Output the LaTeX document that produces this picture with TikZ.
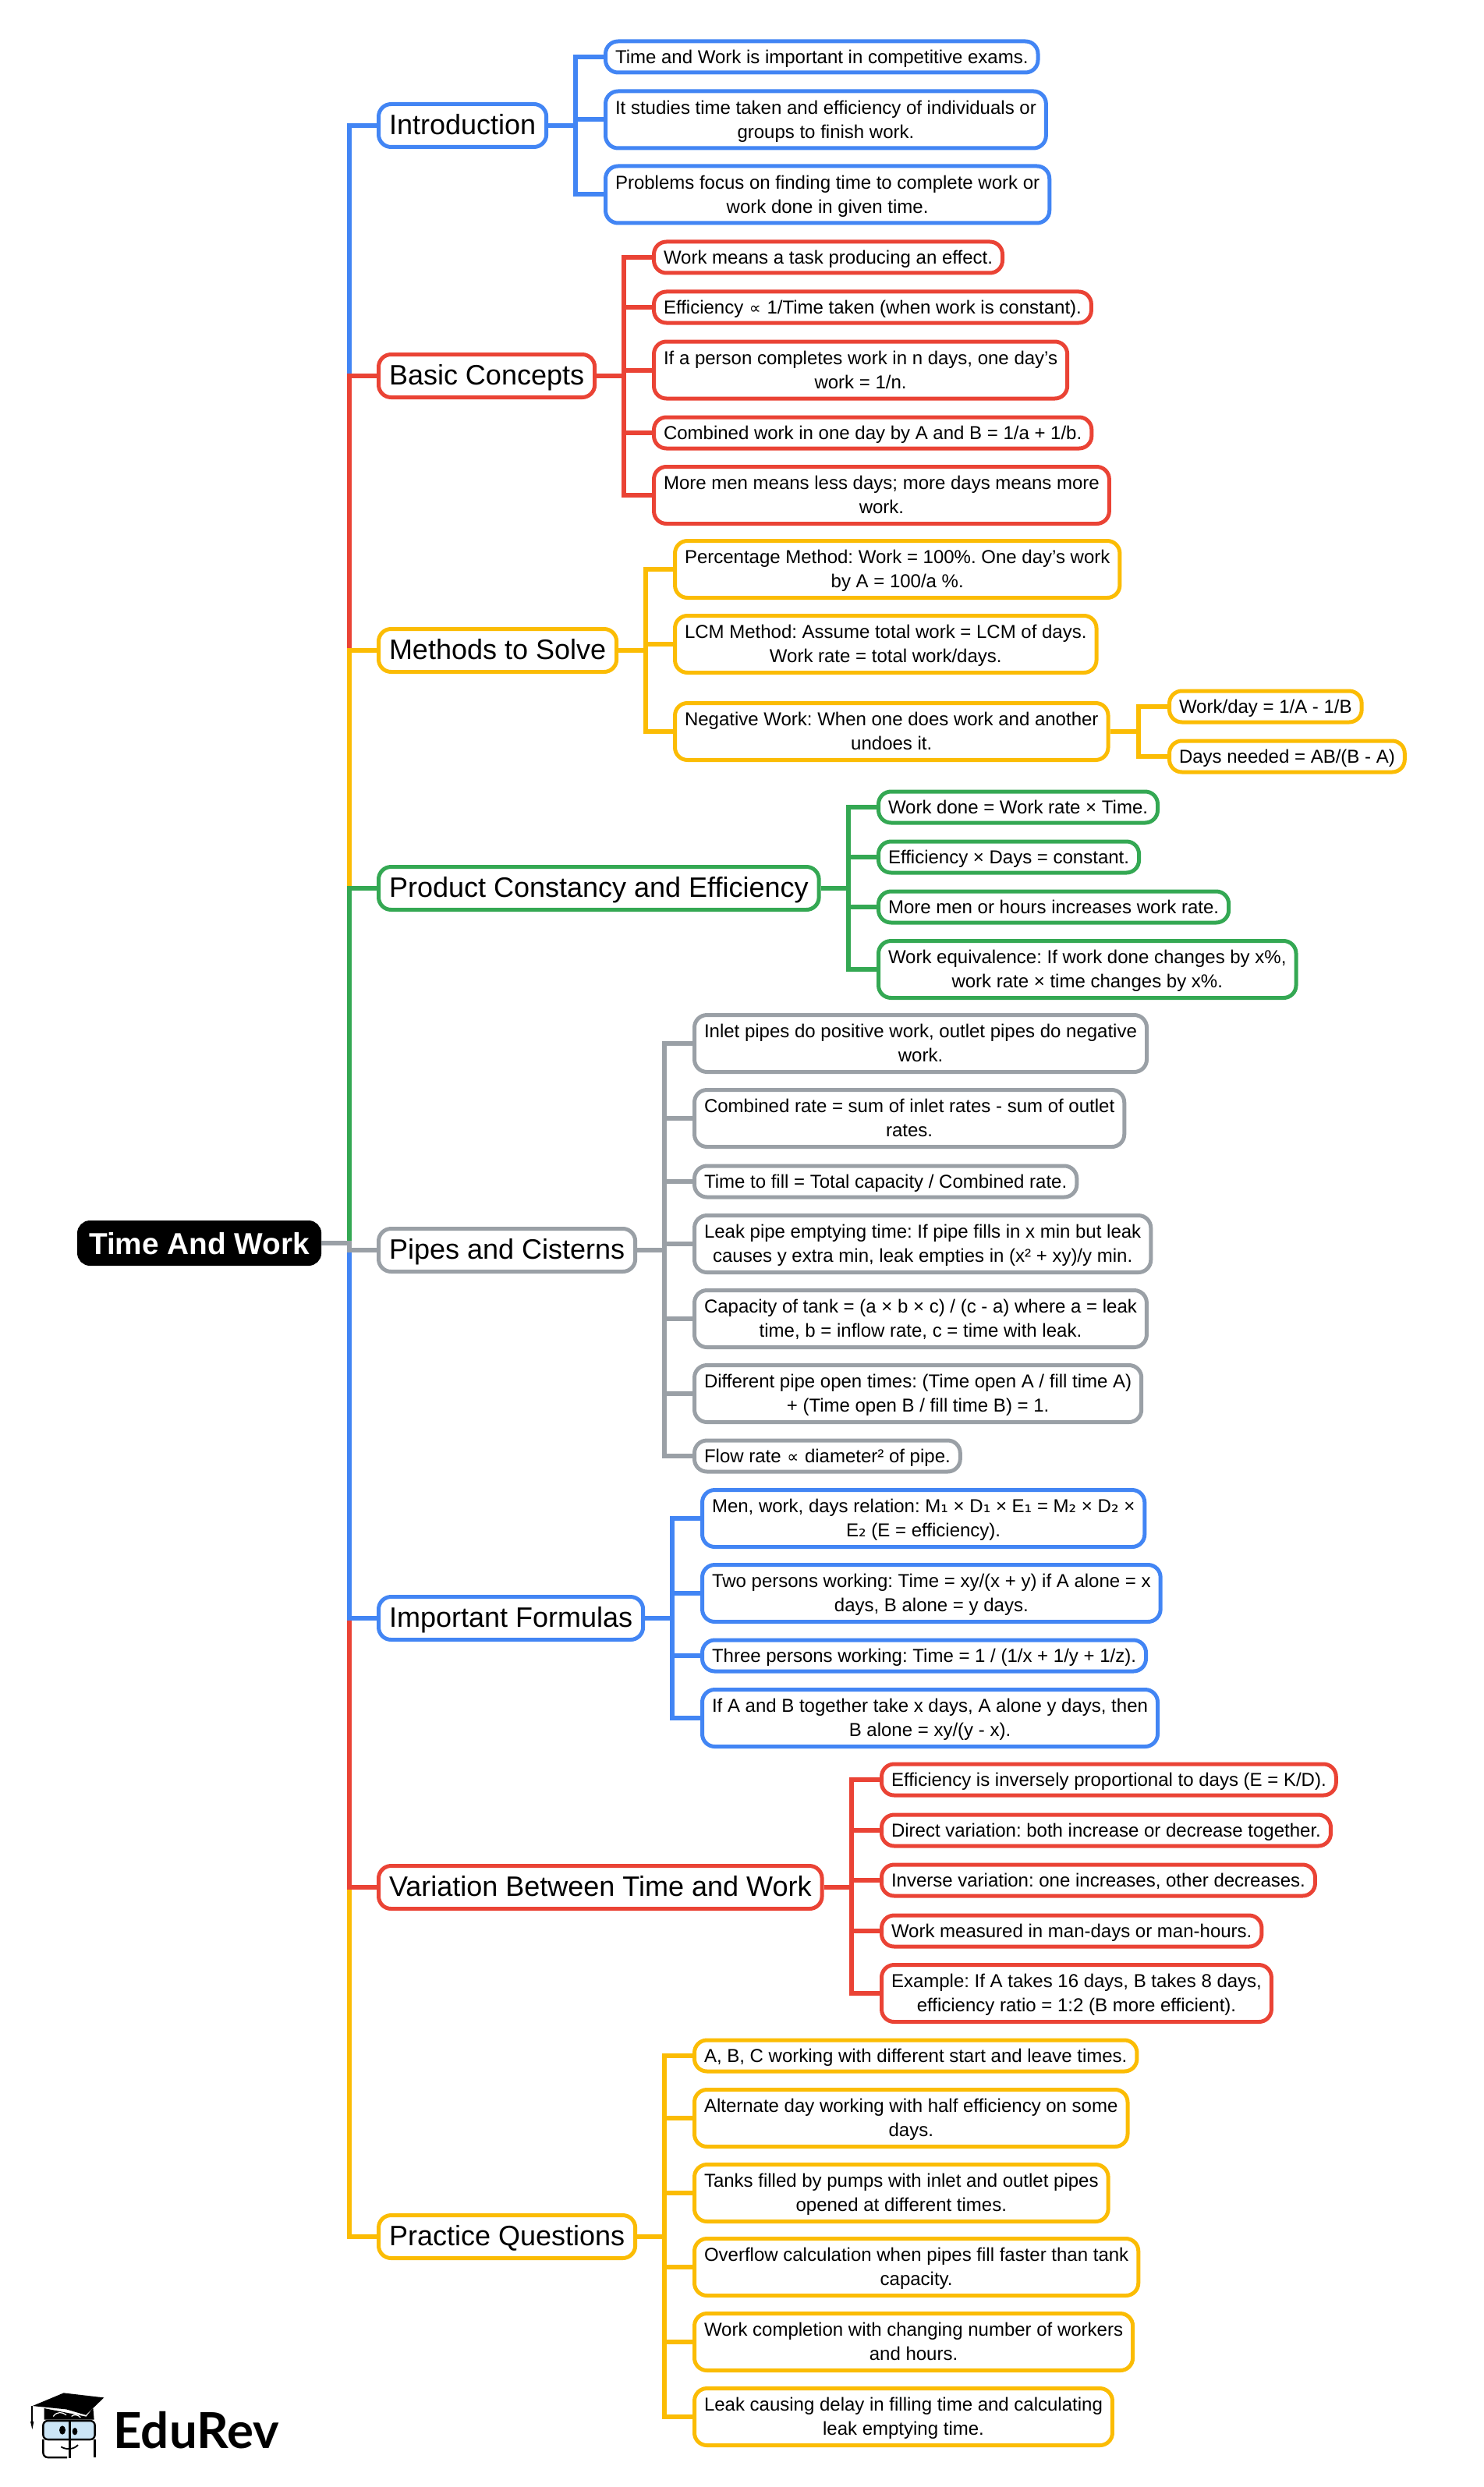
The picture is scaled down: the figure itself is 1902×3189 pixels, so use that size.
\documentclass[tikz,border=0pt]{standalone}
\usepackage{fontspec}
\setmainfont{Liberation Sans}
\newfontfamily\logofont{Lato}
\newfontfamily\symfont{DejaVu Sans}
\definecolor{bluelink}{HTML}{4285F4}
\definecolor{redlink}{HTML}{EA4335}
\definecolor{yellowlink}{HTML}{FBBC04}
\definecolor{greenlink}{HTML}{34A853}
\definecolor{graylink}{HTML}{9AA0A6}
\definecolor{glasslens}{HTML}{CBE5F6}
\newcommand{\boxstrut}{\rule[-0.23\baselineskip]{0pt}{\baselineskip}}
\newcommand{\propsign}{\kern0.5pt{\symfont\fontsize{10.5}{12}\selectfont ∝}\kern0.5pt}
\newcommand{\subone}{{\symfont ₁}}
\newcommand{\subtwo}{{\symfont ₂}}
\tikzset{
    boxbase/.style={rounded corners=8pt,line width=2.5pt,fill=white,align=center,anchor=west,inner xsep=6.25pt,
        execute at begin node=\frenchspacing\boxstrut,execute at end node=\boxstrut},
    leaf/.style={boxbase,draw=#1,inner ysep=2.25pt,font=\fontsize{12}{15.5}\selectfont},
    leaftwo/.style={leaf=#1,inner ysep=1.75pt,execute at begin node=\rule[-4.55pt]{0pt}{33pt}},
    topic/.style={boxbase,draw=#1,inner xsep=6.75pt,inner ysep=2.75pt,font=\fontsize{18}{22}\selectfont},
    rootbox/.style={boxbase,draw=black,fill=black,text=white,inner ysep=0.25pt,rounded corners=7pt,font=\fontsize{19.4}{26}\selectfont\bfseries},
    link/.style={draw=#1,line width=3pt}
}
\begin{document}
\begin{tikzpicture}[x=0.5pt,y=-0.5pt]
    \useasboundingbox (0,0) rectangle (1902,3189);
    \node[rootbox] (root) at (99,1594) {Time And Work};
    \coordinate (trunk) at (448,1594);
    % main topics
    \node[topic=bluelink] (intro) at (483,161) {Introduction};
    \node[topic=redlink] (basic) at (483,482) {Basic Concepts};
    \node[topic=yellowlink] (methods) at (483,834) {Methods to Solve};
    \node[topic=greenlink] (product) at (483,1139) {Product Constancy and Efficiency};
    \node[topic=graylink] (pipes) at (483,1603) {Pipes and Cisterns};
    \node[topic=bluelink] (formulas) at (483,2075) {Important Formulas};
    \node[topic=redlink] (variation) at (483,2420) {Variation Between Time and Work};
    \node[topic=yellowlink] (practice) at (483,2868) {Practice Questions};
    % introduction
    \node[leaf=bluelink] (introa) at (774,73) {Time and Work is important in competitive exams.};
    \node[leaftwo=bluelink] (introb) at (774,153.5) {It studies time taken and efficiency of individuals or\\groups to finish work.};
    \node[leaftwo=bluelink] (introc) at (774,249.5) {Problems focus on finding time to complete work or\\work done in given time.};
    % basic concepts
    \node[leaf=redlink] (basica) at (836,330) {Work means a task producing an effect.};
    \node[leaf=redlink] (basicb) at (836,394) {Efficiency \propsign{} 1/Time taken (when work is constant).};
    \node[leaftwo=redlink] (basicc) at (836,474.5) {If a person completes work in n days, one day’s\\work = 1/n.};
    \node[leaf=redlink] (basicd) at (836,555) {Combined work in one day by A and B = 1/a + 1/b.};
    \node[leaftwo=redlink] (basice) at (836,635) {More men means less days; more days means more\\work.};
    % methods
    \node[leaftwo=yellowlink] (methoda) at (863,730) {Percentage Method: Work = 100\%. One day’s work\\by A = 100/a \%.};
    \node[leaftwo=yellowlink] (methodb) at (863,826) {LCM Method: Assume total work = LCM of days.\\Work rate = total work/days.};
    \node[leaftwo=yellowlink] (methodc) at (863,938) {Negative Work: When one does work and another\\undoes it.};
    \node[leaf=yellowlink] (negativea) at (1497,906) {Work/day = 1/A - 1/B};
    \node[leaf=yellowlink] (negativeb) at (1497,970) {Days needed = AB/(B - A)};
    % product constancy
    \node[leaf=greenlink] (producta) at (1124,1035) {Work done = Work rate × Time.};
    \node[leaf=greenlink] (productb) at (1124,1099) {Efficiency × Days = constant.};
    \node[leaf=greenlink] (productc) at (1124,1163) {More men or hours increases work rate.};
    \node[leaftwo=greenlink] (productd) at (1124,1243) {Work equivalence: If work done changes by x\%,\\work rate × time changes by x\%.};
    % pipes
    \node[leaftwo=graylink] (pipea) at (888,1338) {Inlet pipes do positive work, outlet pipes do negative\\work.};
    \node[leaftwo=graylink] (pipeb) at (888,1434) {Combined rate = sum of inlet rates - sum of outlet\\rates.};
    \node[leaf=graylink] (pipec) at (888,1515) {Time to fill = Total capacity / Combined rate.};
    \node[leaftwo=graylink] (piped) at (888,1595) {Leak pipe emptying time: If pipe fills in x min but leak\\causes y extra min, leak empties in (x² + xy)/y min.};
    \node[leaftwo=graylink] (pipee) at (888,1691) {Capacity of tank = (a × b × c) / (c - a) where a = leak\\time, b = inflow rate, c = time with leak.};
    \node[leaftwo=graylink] (pipef) at (888,1787) {Different pipe open times: (Time open A / fill time A)\\+ (Time open B / fill time B) = 1.};
    \node[leaf=graylink] (pipeg) at (888,1867) {Flow rate \propsign{} diameter² of pipe.};
    % formulas
    \node[leaftwo=bluelink] (formulaa) at (898,1947) {Men, work, days relation: M\subone{} × D\subone{} × E\subone{} = M\subtwo{} × D\subtwo{} ×\\E\subtwo{} (E = efficiency).};
    \node[leaftwo=bluelink] (formulab) at (898,2043) {Two persons working: Time = xy/(x + y) if A alone = x\\days, B alone = y days.};
    \node[leaf=bluelink] (formulac) at (898,2123) {Three persons working: Time = 1 / (1/x + 1/y + 1/z).};
    \node[leaftwo=bluelink] (formulad) at (898,2203) {If A and B together take x days, A alone y days, then\\B alone = xy/(y - x).};
    % variation
    \node[leaf=redlink] (variationa) at (1128,2282) {Efficiency is inversely proportional to days (E = K/D).};
    \node[leaf=redlink] (variationb) at (1128,2347) {Direct variation: both increase or decrease together.};
    \node[leaf=redlink] (variationc) at (1128,2411) {Inverse variation: one increases, other decreases.};
    \node[leaf=redlink] (variationd) at (1128,2476) {Work measured in man-days or man-hours.};
    \node[leaftwo=redlink] (variatione) at (1128,2556) {Example: If A takes 16 days, B takes 8 days,\\efficiency ratio = 1:2 (B more efficient).};
    % practice
    \node[leaf=yellowlink] (practicea) at (888,2636) {A, B, C working with different start and leave times.};
    \node[leaftwo=yellowlink] (practiceb) at (888,2716) {Alternate day working with half efficiency on some\\days.};
    \node[leaftwo=yellowlink] (practicec) at (888,2812) {Tanks filled by pumps with inlet and outlet pipes\\opened at different times.};
    \node[leaftwo=yellowlink] (practiced) at (888,2907) {Overflow calculation when pipes fill faster than tank\\capacity.};
    \node[leaftwo=yellowlink] (practicee) at (888,3003) {Work completion with changing number of workers\\and hours.};
    \node[leaftwo=yellowlink] (practicef) at (888,3099) {Leak causing delay in filling time and calculating\\leak emptying time.};
    % trunk, nearest topics go on top
    \draw[link=bluelink] (root.east) -- (trunk) |- (intro.west);
    \draw[link=redlink] (root.east) -- (trunk) |- (basic.west);
    \draw[link=yellowlink] (root.east) -- (trunk) |- (methods.west);
    \draw[link=greenlink] (root.east) -- (trunk) |- (product.west);
    \draw[link=yellowlink] (root.east) -- (trunk) |- (practice.west);
    \draw[link=redlink] (root.east) -- (trunk) |- (variation.west);
    \draw[link=bluelink] (root.east) -- (trunk) |- (formulas.west);
    \draw[link=graylink] (root.east) -- (trunk) |- (pipes.west);
    % branches
    \foreach \kid in {introa,introb,introc}
        \draw[link=bluelink] (intro.east) -- ++(35,0) |- (\kid.west);
    \foreach \kid in {basica,basicb,basicc,basicd,basice}
        \draw[link=redlink] (basic.east) -- ++(35,0) |- (\kid.west);
    \foreach \kid in {methoda,methodb,methodc}
        \draw[link=yellowlink] (methods.east) -- ++(35,0) |- (\kid.west);
    \foreach \kid in {negativea,negativeb}
        \draw[link=yellowlink] (methodc.east) -- ++(36,0) |- (\kid.west);
    \foreach \kid in {producta,productb,productc,productd}
        \draw[link=greenlink] (product.east) -- ++(35,0) |- (\kid.west);
    \foreach \kid in {pipea,pipeb,pipec,piped,pipee,pipef,pipeg}
        \draw[link=graylink] (pipes.east) -- ++(35,0) |- (\kid.west);
    \foreach \kid in {formulaa,formulab,formulac,formulad}
        \draw[link=bluelink] (formulas.east) -- ++(35,0) |- (\kid.west);
    \foreach \kid in {variationa,variationb,variationc,variationd,variatione}
        \draw[link=redlink] (variation.east) -- ++(35,0) |- (\kid.west);
    \foreach \kid in {practicea,practiceb,practicec,practiced,practicee,practicef}
        \draw[link=yellowlink] (practice.east) -- ++(35,0) |- (\kid.west);
    % logo
    \node[anchor=base west,inner sep=0pt,font=\fontsize{31.8}{36}\logofont\bfseries] (logotext) at (145,3139) {EduRev};
    \begin{scope}[shift={(0,2950)},x=0.1667pt,y=-0.1667pt]
        \fill (125,405) -- (245,355) -- (400,373) -- (330,440) -- (255,418) -- cycle;
        \fill (170,414) -- (170,458) -- (362,458) -- (358,412) -- (332,446) -- cycle;
        \draw[line width=1pt] (123,405) -- (123,465);
        \fill (117,465) -- (130,465) -- (124,495) -- cycle;
        \draw[white,line width=0.6pt] (205,445) .. controls (220,425) and (240,428) .. (255,440);
        \draw[white,line width=0.6pt] (275,445) .. controls (285,436) and (300,438) .. (310,450);
        \draw[line width=1.2pt,fill=glasslens,rounded corners=3pt] (166,462) rectangle (365,534);
        \draw[line width=1.2pt,rounded corners=3pt] (258,603) -- (166,603) -- (166,534);
        \draw[line width=1.2pt,rounded corners=3pt] (365,534) -- (365,603);
        \draw[line width=1.4pt] (268,458) -- (268,605);
        \fill (240,498) ellipse [x radius=12,y radius=17];
        \fill (288,503) ellipse [x radius=10,y radius=14];
        \draw[line width=0.9pt] (235,562) .. controls (255,575) and (285,572) .. (300,555);
    \end{scope}
\end{tikzpicture}
\end{document}
